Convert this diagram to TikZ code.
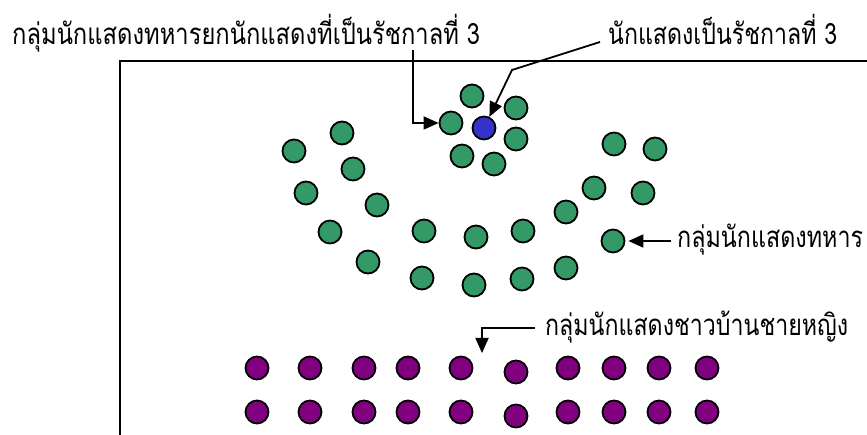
\documentclass[tikz,border=0pt]{standalone}
\usepackage{fontspec}
\usepackage{graphicx}
\newfontfamily\thaifont[Script=Thai]{Loma}
\usetikzlibrary{arrows.meta}
\definecolor{soldier}{RGB}{51,153,102}
\definecolor{king}{RGB}{51,51,204}
\definecolor{villager}{RGB}{128,0,128}
\tikzset{
  dancer/.style={circle,draw=black,line width=1.8pt,minimum size=23pt,inner sep=0pt},
  sold/.style={dancer,fill=soldier},
  kingdot/.style={dancer,fill=king},
  vill/.style={dancer,fill=villager},
  lbl/.style={anchor=base west,inner sep=0pt},
  arr/.style={line width=1.8pt,-{Triangle[length=15pt,width=13pt]}},
  frame/.style={line width=1.6pt}
}
\newsavebox\thaibox
\newsavebox\thairef
\newcommand{\thaiw}[2]{%
  \sbox\thaibox{\thaifont\fontsize{24}{26}\selectfont #2}%
  \sbox\thairef{\thaifont\fontsize{24}{26}\selectfont ก}%
  \pgfmathsetmacro{\thaisx}{#1/\wd\thaibox}%
  \pgfmathsetmacro{\thaisy}{16.5/\ht\thairef}%
  \scalebox{\thaisx}[\thaisy]{\usebox\thaibox}}
\begin{document}
\begin{tikzpicture}[x=1pt,y=-1pt]
\useasboundingbox (0,0) rectangle (867,435);
\coordinate (fa) at (120,435);
\coordinate (fb) at (120,61);
\coordinate (fc) at (867,61);
\draw[frame] (fa) -- (fb) -- (fc);
% king cluster
\node[sold] (k1) at (472,96) {};
\node[sold] (k2) at (516,108) {};
\node[sold] (k3) at (451,123) {};
\node[kingdot] (blue) at (484,128) {};
\node[sold] (k4) at (516,139) {};
\node[sold] (k5) at (462,156) {};
\node[sold] (k6) at (494,164) {};
% soldiers
\node[sold] (s1) at (342,133) {};
\node[sold] (s2) at (294,151) {};
\node[sold] (s3) at (353,169) {};
\node[sold] (s4) at (306,193) {};
\node[sold] (s5) at (377,205) {};
\node[sold] (s6) at (330,232) {};
\node[sold] (s7) at (368,262) {};
\node[sold] (s8) at (424,231) {};
\node[sold] (s9) at (476,237) {};
\node[sold] (s10) at (523,231) {};
\node[sold] (s11) at (566,212) {};
\node[sold] (s12) at (594,188) {};
\node[sold] (s13) at (614,144) {};
\node[sold] (s14) at (655,149) {};
\node[sold] (s15) at (643,193) {};
\node[sold] (s16) at (613,241) {};
\node[sold] (s17) at (422,278) {};
\node[sold] (s18) at (474,285) {};
\node[sold] (s19) at (522,279) {};
\node[sold] (s20) at (566,268) {};
% villagers
\foreach \x [count=\i] in {257,310,364,408,461,516,568,614,659,707}{
  \pgfmathsetmacro{\dy}{\x==516 ? 4 : 0}
  \node[vill] (va\i) at (\x,368+\dy) {};
  \node[vill] (vb\i) at (\x,412+\dy) {};
}
% labels
\node[lbl] (lt) at (12,45) {\thaiw{468}{กลุ่มนักแสดงทหารยกนักแสดงที่เป็นรัชกาลที่ 3}};
\node[lbl] (rt) at (608,45) {\thaiw{229}{นักแสดงเป็นรัชกาลที่ 3}};
\node[lbl] (st) at (677,248) {\thaiw{186}{กลุ่มนักแสดงทหาร}};
\node[lbl] (vt) at (545,336) {\thaiw{303}{กลุ่มนักแสดงชาวบ้านชายหญิง}};
% connectors
\coordinate (a1) at (413,50);
\draw[arr] (a1) |- (k3.west);
\coordinate (a2) at (600,42);
\coordinate (b2) at (512,70);
\draw[arr] (a2) -- (b2) -- (blue);
\coordinate (a3) at (671,241);
\draw[arr,shorten >=3pt] (a3) -- (s16.east);
\coordinate (a4) at (535,328);
\coordinate (b4) at (482,328);
\coordinate (c4) at (482,353);
\draw[arr] (a4) -- (b4) -- (c4);
\end{tikzpicture}
\end{document}
